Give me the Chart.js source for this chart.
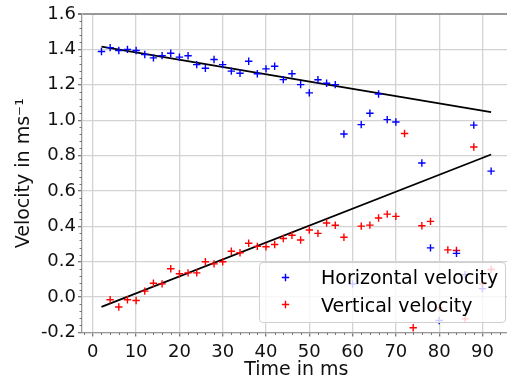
<!DOCTYPE html>
<html><head><meta charset="utf-8">
<script src="https://cdn.jsdelivr.net/npm/chart.js@4.4.1/dist/chart.umd.min.js"></script>
<style>
html,body{margin:0;padding:0;background:#fff;overflow:hidden}
#wrap{position:relative;width:507px;height:381px;overflow:hidden}
#c{position:absolute;left:0;top:0}
#legend{position:absolute;left:259px;top:262px;width:247px;height:61px;box-sizing:border-box;border:1px solid #d0d0d0;border-radius:4px;background:rgba(255,255,255,0.8);font-family:"DejaVu Sans";font-size:19px;color:#000}
.row{position:absolute;line-height:19px;white-space:nowrap}
.mk{position:absolute;width:9px;height:9px}
</style></head>
<body><div id="wrap"><canvas id="c" width="516" height="381"></canvas>
<div id="legend">
<svg class="mk" style="left:21px;top:10px" viewBox="0 0 9 9"><path d="M0.8 4.5H8.2M4.5 0.8V8.2" stroke="#0000ff" stroke-width="1.4" fill="none"/></svg><span class="row" style="left:61px;top:5px">Horizontal velocity</span>
<svg class="mk" style="left:21px;top:37px" viewBox="0 0 9 9"><path d="M0.8 4.5H8.2M4.5 0.8V8.2" stroke="#ff0000" stroke-width="1.4" fill="none"/></svg><span class="row" style="left:61px;top:33px">Vertical velocity</span>
</div></div>
<script>
const timeMs = [2,4,6,8,10,12,14,16,18,20,22,24,26,28,30,32,34,36,38,40,42,44,46,48,50,52,54,56,58,60,62,64,66,68,70,72,74,76,78,80,82,84,86,88,90,92];
const horizontalVelocity = [1.388,1.41,1.394,1.40,1.394,1.371,1.352,1.365,1.378,1.356,1.364,1.314,1.293,1.343,1.314,1.277,1.265,1.333,1.262,1.29,1.305,1.229,1.262,1.201,1.154,1.228,1.209,1.201,0.922,0.074,0.975,1.039,1.148,1.003,0.990,null,null,0.758,0.278,-0.132,null,0.247,0.127,0.972,0.048,0.712];
const verticalVelocity = [null,-0.015,-0.056,-0.015,-0.019,0.034,0.078,0.075,0.160,0.132,0.137,0.137,0.200,0.188,0.200,0.259,0.251,0.304,0.287,0.285,0.297,0.331,0.350,0.323,0.379,0.360,0.419,0.406,0.338,null,0.401,0.407,0.447,0.469,0.456,0.925,-0.173,0.403,0.428,-0.06,0.267,0.263,-0.123,0.848,0.075,0.156];
const fitTime = [2, 92];
const horizontalFit = [1.415, 1.046];
const verticalFit = [-0.055, 0.806];
const xTicks = [0,10,20,30,40,50,60,70,80,90];
const yTicks = [-0.2,0.0,0.2,0.4,0.6,0.8,1.0,1.2,1.4,1.6];

function pts(xs, ys){ const out=[]; xs.forEach((x,i)=>{ if(ys[i]!==null) out.push({x:x,y:ys[i]}); }); return out; }

const minorTicks = {
  id:'minorTicks',
  afterDraw(chart){
    const {ctx, scales:{x,y}} = chart;
    ctx.save(); ctx.strokeStyle='#777'; ctx.lineWidth=1;
    ctx.beginPath();
    for (let k=0;k<=45;k++){ if (k%5===0) continue; const v=-0.2+k*0.04; const py=Math.round(y.getPixelForValue(v))+0.5; ctx.moveTo(x.left-2.5,py); ctx.lineTo(x.left,py); }
    for (let v=-2; v<=96; v+=2){ if (v%10===0) continue; const px=Math.round(x.getPixelForValue(v))+0.5; ctx.moveTo(px,y.bottom); ctx.lineTo(px,y.bottom+2.5); }
    ctx.stroke(); ctx.restore();
  }
};

const font = {family:'DejaVu Sans', size:18};
new Chart(document.getElementById('c'), {
  type:'scatter',
  data:{datasets:[
    {label:'Horizontal velocity', data:pts(timeMs,horizontalVelocity), pointStyle:'cross', pointRadius:3.7, borderWidth:1.4, borderColor:'#0000ff', backgroundColor:'#0000ff'},
    {label:'Vertical velocity', data:pts(timeMs,verticalVelocity), pointStyle:'cross', pointRadius:3.7, borderWidth:1.4, borderColor:'#ff0000', backgroundColor:'#ff0000'},
    {type:'line', label:'fitH', data:pts(fitTime,horizontalFit), borderColor:'#000', borderWidth:1.8, pointRadius:0, fill:false},
    {type:'line', label:'fitV', data:pts(fitTime,verticalFit), borderColor:'#000', borderWidth:1.8, pointRadius:0, fill:false}
  ]},
  options:{
    responsive:false, animation:false, devicePixelRatio:1,
    layout:{padding:{top:14,left:0,right:0,bottom:0}},
    plugins:{legend:{display:false}, tooltip:{enabled:false}},
    scales:{
      x:{type:'linear', min:-2.5, max:96.5,
        afterBuildTicks:s=>{ s.ticks = xTicks.map(v=>({value:v})); },
        afterFit:s=>{ s.height = 48.5; },
        grid:{color:'#d3d3d3', lineWidth:1.3, tickLength:4, tickColor:'#777'},
        border:{color:'#999', width:1.3},
        ticks:{font:font, color:'#111', padding:5, maxRotation:0, autoSkip:false, callback:v=>String(v)},
        title:{display:true, text:'Time in ms', font:{family:'DejaVu Sans', size:19}, color:'#111', padding:{top:0,bottom:0}}
      },
      y:{type:'linear', min:-0.2, max:1.6,
        afterBuildTicks:s=>{ s.ticks = yTicks.map(v=>({value:v})); },
        afterFit:s=>{ s.width = 82; },
        grid:{color:c=>(c.tick && c.tick.value===1.6)?'#999':'#d3d3d3', lineWidth:c=>(c.tick && c.tick.value===1.6)?2:1.3, tickLength:4, tickColor:'#777'},
        border:{color:'#999', width:1.3},
        ticks:{font:font, color:'#111', padding:2, autoSkip:false, callback:v=>Number(v).toFixed(1)},
        title:{display:true, text:'Velocity in ms⁻¹', font:{family:'DejaVu Sans', size:19}, color:'#111', padding:{top:13,bottom:0}}
      }
    }
  },
  plugins:[minorTicks]
});
</script>
</body></html>
